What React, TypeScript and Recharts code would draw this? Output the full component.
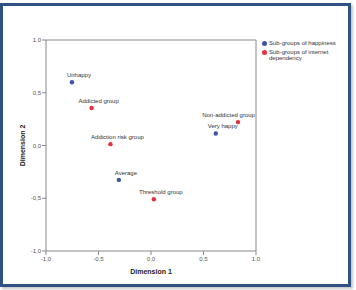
import React from "react";
import {
  ScatterChart,
  Scatter,
  XAxis,
  YAxis,
  ReferenceLine,
  LabelList,
} from "recharts";

// dimension coordinates
const happinessNames = ["Unhappy", "Average", "Very happy"];
const happinessX = [-0.753, -0.306, 0.617];
const happinessY = [0.6, -0.326, 0.114];

const internetNames = [
  "Addicted group",
  "Addiction risk group",
  "Threshold group",
  "Non-addicted group",
];
const internetX = [-0.566, -0.386, 0.027, 0.829];
const internetY = [0.355, 0.013, -0.509, 0.222];

const ticks = [-1, -0.5, 0, 0.5, 1];

const BLUE = "#3b54a3";
const RED = "#e3303c";
const FONT = "'Liberation Sans', Arial, sans-serif";
const PLOT_RIGHT = 256;

const happiness = happinessNames.map((name, i) => ({
  name,
  x: happinessX[i],
  y: happinessY[i],
}));
const internet = internetNames.map((name, i) => ({
  name,
  x: internetX[i],
  y: internetY[i],
}));

function fmt(v: number): string {
  return v.toFixed(1).replace(".", ",");
}

function PointLabel(props: any) {
  const { x, y, width, value } = props;
  const cx = x + (width || 0) / 2;
  const cy = y + (width || 0) / 2;
  const w = String(value).length * 3.05;
  let lx = cx + 7;
  if (lx + w / 2 > PLOT_RIGHT) lx = PLOT_RIGHT - w / 2;
  return (
    <text
      x={lx}
      y={cy - 5}
      textAnchor="middle"
      fontSize={6}
      fontFamily={FONT}
      fill="#333"
    >
      {value}
    </text>
  );
}

function LegendBox() {
  return (
    <div style={{ fontFamily: FONT, fontSize: 6, color: "#333", lineHeight: "6px" }}>
      <div style={{ display: "flex", alignItems: "center", marginBottom: 3 }}>
        <span
          style={{
            width: 5,
            height: 5,
            borderRadius: 3,
            background: BLUE,
            display: "inline-block",
            marginRight: 2,
          }}
        />
        <span>Sub-groups of happiness</span>
      </div>
      <div style={{ display: "flex", alignItems: "flex-start" }}>
        <span
          style={{
            width: 5,
            height: 5,
            borderRadius: 3,
            background: RED,
            display: "inline-block",
            marginRight: 2,
            marginTop: 1,
          }}
        />
        <span>
          Sub-groups of internet
          <br />
          dependency
        </span>
      </div>
    </div>
  );
}

export default function App() {
  return (
    <div
      style={{
        position: "absolute",
        left: 0,
        top: 0,
        width: 356,
        height: 290,
        background: "#fff",
      }}
    >
      {/* frame */}
      <div
        style={{
          position: "absolute",
          left: 0,
          top: 3,
          width: 345,
          height: 278,
          border: "3px solid #2d5283",
          boxShadow: "2px 2px 2px #c8c8c8",
        }}
      />
      <div style={{ position: "absolute", left: 0, top: 0 }}>
        <ScatterChart
          width={356}
          height={290}
          margin={{ top: 40, right: 100, bottom: 19, left: 0 }}
        >
          <XAxis
            type="number"
            dataKey="x"
            domain={[-1, 1]}
            ticks={ticks}
            tickFormatter={fmt}
            height={20}
            stroke="#888"
            tickSize={4}
            tick={{ fontSize: 6, fill: "#555", fontFamily: FONT }}
            label={{
              value: "Dimension 1",
              position: "insideBottom",
              offset: -3,
              style: { fontSize: 7, fontWeight: "bold", fill: "#222", fontFamily: FONT },
            }}
          />
          <YAxis
            type="number"
            dataKey="y"
            domain={[-1, 1]}
            ticks={ticks}
            tickFormatter={fmt}
            width={46}
            stroke="#888"
            tickSize={4}
            tickMargin={1}
            tick={{ fontSize: 6, fill: "#555", fontFamily: FONT }}
            label={{
              value: "Dimension 2",
              angle: -90,
              position: "insideLeft",
              offset: 23,
              style: {
                fontSize: 7,
                fontWeight: "bold",
                fill: "#222",
                fontFamily: FONT,
                textAnchor: "middle",
              },
            }}
          />
          <ReferenceLine y={1} stroke="#888" />
          <ReferenceLine x={1} stroke="#888" />
          <Scatter
            name="Sub-groups of happiness"
            data={happiness}
            fill={BLUE}
            shape={(p: any) => <circle cx={p.cx} cy={p.cy} r={2.2} fill={BLUE} />}
            isAnimationActive={false}
          >
            <LabelList dataKey="name" content={PointLabel} />
          </Scatter>
          <Scatter
            name="Sub-groups of internet dependency"
            data={internet}
            fill={RED}
            shape={(p: any) => <circle cx={p.cx} cy={p.cy} r={2.2} fill={RED} />}
            isAnimationActive={false}
          >
            <LabelList dataKey="name" content={PointLabel} />
          </Scatter>
        </ScatterChart>
      </div>
      <div style={{ position: "absolute", left: 262, top: 40, width: 90 }}>
        <LegendBox />
      </div>
    </div>
  );
}
